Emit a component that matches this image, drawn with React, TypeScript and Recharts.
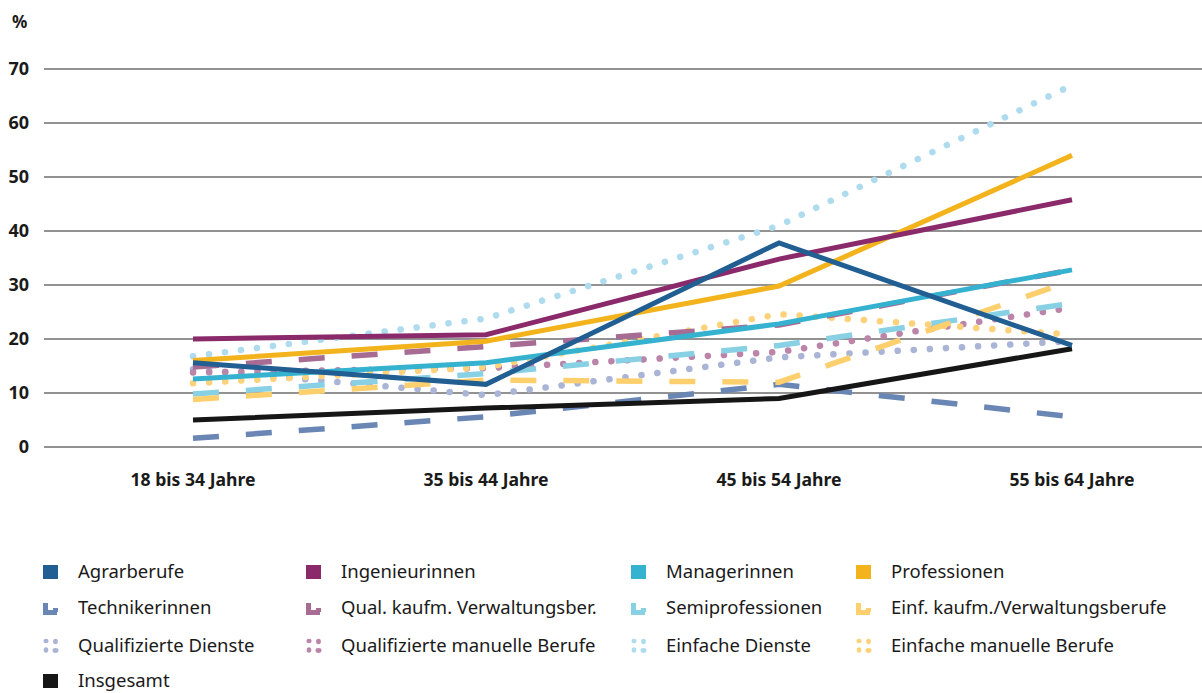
import React from 'react';
import { LineChart, Line, XAxis, YAxis, CartesianGrid } from 'recharts';

const categories = ['18 bis 34 Jahre', '35 bis 44 Jahre', '45 bis 54 Jahre', '55 bis 64 Jahre'];
const yTicks = [0, 10, 20, 30, 40, 50, 60, 70];

const agrarberufe = [15.6, 11.6, 37.8, 18.8];
const ingenieurinnen = [20, 20.8, 34.8, 45.8];
const managerinnen = [12.6, 15.6, 22.8, 32.8];
const professionen = [16, 19.6, 29.8, 54];
const technikerinnen = [1.6, 5.6, 11.6, 5.6];
const qualKaufm = [14.8, 18.6, 22.6, 32.8];
const semiprofessionen = [9.8, 13.6, 18.8, 26.6];
const einfKaufm = [8.8, 12.4, 12, 30.8];
const qualDienste = [14.4, 9.6, 16.6, 19.6];
const qualManuell = [13.8, 14.6, 17.6, 25.8];
const einfDienste = [16.8, 23.8, 41, 67];
const einfManuell = [11.8, 14.8, 24.6, 20.8];
const insgesamt = [5, 7.2, 9, 18.2];

type Kind = 'solid' | 'dash' | 'dot';
interface Series { key: string; name: string; color: string; kind: Kind; values: number[] }

// legend order (row by row, 4 columns)
const SERIES: Series[] = [
  { key: 'agrar', name: 'Agrarberufe', color: '#215e92', kind: 'solid', values: agrarberufe },
  { key: 'ing', name: 'Ingenieurinnen', color: '#8b2a6b', kind: 'solid', values: ingenieurinnen },
  { key: 'man', name: 'Managerinnen', color: '#35b2cf', kind: 'solid', values: managerinnen },
  { key: 'prof', name: 'Professionen', color: '#f2b31c', kind: 'solid', values: professionen },
  { key: 'tech', name: 'Technikerinnen', color: '#6a86b4', kind: 'dash', values: technikerinnen },
  { key: 'qkv', name: 'Qual. kaufm. Verwaltungsber.', color: '#a66c94', kind: 'dash', values: qualKaufm },
  { key: 'semi', name: 'Semiprofessionen', color: '#88d0e3', kind: 'dash', values: semiprofessionen },
  { key: 'ekv', name: 'Einf. kaufm./Verwaltungsberufe', color: '#fdcf6d', kind: 'dash', values: einfKaufm },
  { key: 'qd', name: 'Qualifizierte Dienste', color: '#aab4d6', kind: 'dot', values: qualDienste },
  { key: 'qm', name: 'Qualifizierte manuelle Berufe', color: '#bb84a9', kind: 'dot', values: qualManuell },
  { key: 'ed', name: 'Einfache Dienste', color: '#aedcee', kind: 'dot', values: einfDienste },
  { key: 'em', name: 'Einfache manuelle Berufe', color: '#fdd27a', kind: 'dot', values: einfManuell },
  { key: 'ges', name: 'Insgesamt', color: '#161616', kind: 'solid', values: insgesamt },
];

// drawing order: dotted, dashed, then solid on top
const DRAW_ORDER = ['qd', 'qm', 'em', 'ed', 'tech', 'semi', 'ekv', 'qkv', 'ges', 'prof', 'ing', 'man', 'agrar'];

const data = categories.map((c, i) => {
  const row: Record<string, string | number> = { name: c };
  SERIES.forEach(s => { row[s.key] = s.values[i]; });
  return row;
});

const FONT = '"Noto Sans", sans-serif';

const LegendIcon = ({ kind, color }: { kind: Kind; color: string }) => {
  if (kind === 'solid') {
    return <svg width={16} height={15}><rect x={0} y={1} width={15} height={14} fill={color} /></svg>;
  }
  if (kind === 'dash') {
    return (
      <svg width={16} height={15}>
        <rect x={0} y={3} width={5} height={12} fill={color} />
        <rect x={0} y={10} width={14} height={5} fill={color} />
        <rect x={10} y={8} width={5} height={4} fill={color} />
      </svg>
    );
  }
  return (
    <svg width={16} height={15}>
      <ellipse cx={3} cy={3} rx={2.6} ry={2.2} fill={color} />
      <ellipse cx={12.5} cy={3.5} rx={2.4} ry={2.8} fill={color} />
      <ellipse cx={3} cy={12} rx={2.3} ry={2.8} fill={color} />
      <ellipse cx={12.5} cy={12.5} rx={3} ry={2.4} fill={color} />
    </svg>
  );
};

const COL_X = [43, 306, 631, 856];
const ROW_Y = [571, 607, 645, 680];

export default function App() {
  return (
    <div style={{ position: 'absolute', left: 0, top: 0, width: 1202, height: 693, background: '#fff', fontFamily: FONT, overflow: 'hidden' }}>
      <div style={{ position: 'absolute', left: 12, top: 10, fontSize: 17, fontWeight: 700, color: '#1a1a1a' }}>%</div>
      <LineChart width={1202} height={500} data={data} margin={{ top: 69, right: 0, left: 0, bottom: 13 }}>
        <CartesianGrid vertical={false} stroke="#6e6e6e" strokeWidth={1.4} />
        <XAxis
          dataKey="name"
          axisLine={false}
          tickLine={false}
          tickSize={0}
          tickMargin={27}
          height={40}
          padding={{ left: 149, right: 130 }}
          tick={{ fontSize: 17.6, fontWeight: 700, fill: '#1a1a1a', fontFamily: FONT }}
        />
        <YAxis
          domain={[0, 70]}
          ticks={yTicks}
          width={44}
          axisLine={false}
          tickLine={false}
          tickSize={0}
          tickMargin={15}
          tick={{ fontSize: 18, fontWeight: 700, fill: '#1a1a1a', fontFamily: FONT }}
        />
        {DRAW_ORDER.map(k => {
          const s = SERIES.find(x => x.key === k)!;
          const dash = s.kind === 'dash' ? '26 27' : s.kind === 'dot' ? '0.1 16' : undefined;
          return (
            <Line
              key={k}
              dataKey={k}
              name={s.name}
              type="linear"
              stroke={s.color}
              strokeWidth={s.kind === 'solid' ? 5 : s.kind === 'dot' ? 6.5 : 5.5}
              strokeDasharray={dash}
              strokeLinecap={s.kind === 'dot' ? 'round' : 'butt'}
              dot={false}
              activeDot={false}
              isAnimationActive={false}
            />
          );
        })}
      </LineChart>
      {SERIES.map((s, i) => {
        const col = i % 4;
        const row = Math.floor(i / 4);
        return (
          <div key={s.key} style={{ position: 'absolute', left: COL_X[col], top: ROW_Y[row] - 12, height: 24, lineHeight: '24px', display: 'flex', alignItems: 'center' }}>
            <LegendIcon kind={s.kind} color={s.color} />
            <span style={{ marginLeft: 19, fontSize: 18.5, color: '#1a1a1a', whiteSpace: 'nowrap' }}>{s.name}</span>
          </div>
        );
      })}
    </div>
  );
}
